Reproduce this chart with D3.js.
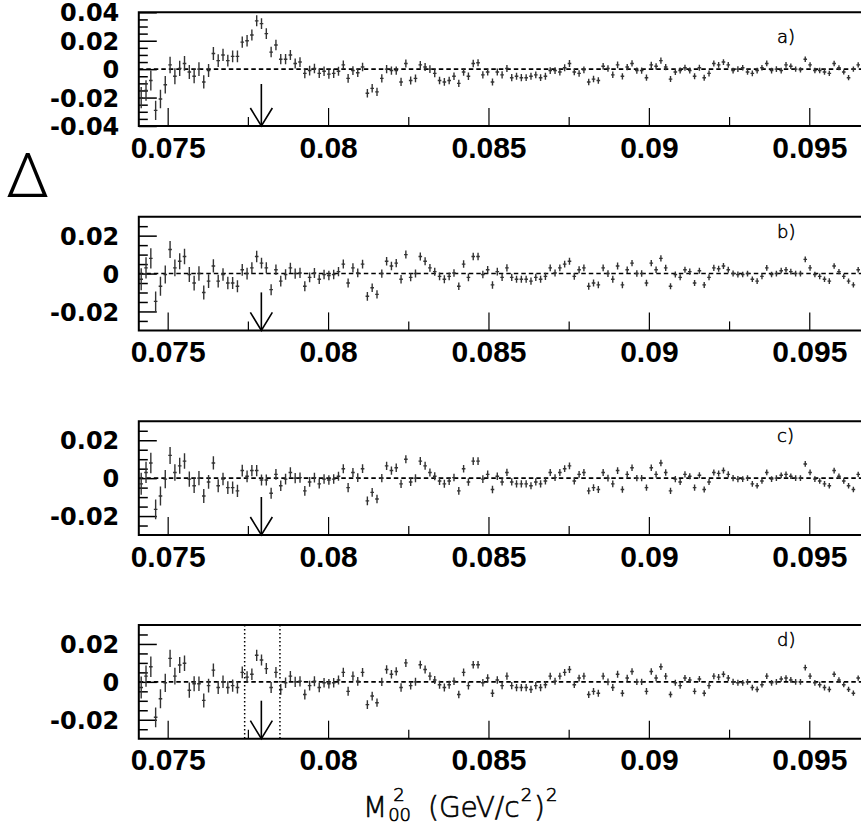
<!DOCTYPE html>
<html>
<head>
<meta charset="utf-8">
<script src="https://cdn.jsdelivr.net/npm/d3@7"></script>
<style>
  body { margin: 0; background: #fff; }
  svg { display: block; }
</style>
</head>
<body>
<svg id="chart" width="861" height="827"></svg>
<script>
// ---- histogram binning (150 bins) ----
const binStart = 0.0741;
const binWidth = 0.00015;

// ---- axis ticks ----
const xTickValues = [0.075, 0.08, 0.085, 0.09, 0.095];
const xTickLabels = ["0.075", "0.08", "0.085", "0.09", "0.095"];
const xMinorTicks = [0.0775, 0.0825, 0.0875, 0.0925];

const yTicksWide = [0.04, 0.02, 0, -0.02, -0.04];
const yTickLabelsWide = ["0.04", "0.02", "0", "-0.02", "-0.04"];
const yMinorWide = [0.035, 0.03, 0.025, 0.015, 0.01, 0.005, -0.005, -0.01, -0.015, -0.025, -0.03, -0.035];

const yTicksNarrow = [0.02, 0, -0.02];
const yTickLabelsNarrow = ["0.02", "0", "-0.02"];
const yMinorNarrow = [0.025, 0.015, 0.01, 0.005, -0.005, -0.01, -0.015, -0.025];

const panelLabels = ["a)", "b)", "c)", "d)"];
const markerMass2 = 0.07792;          // arrow position
const windowEdges = [0.0774, 0.0785]; // dotted window in panel d

// ---- residuals per bin ----
const deltaA = [
  -0.020, -0.015, -0.008, -0.029, -0.021, -0.011, 0.003, -0.005, 0.0005, 0.004,
  -0.002, -0.005, 0.000, -0.009, -0.001, 0.011, 0.006, 0.010, 0.006, 0.009,
  0.009, 0.019, 0.020, 0.024, 0.034, 0.032, 0.025, 0.012, 0.017, 0.007,
  0.007, 0.010, 0.004, 0.005, -0.003, -0.001, 0.0005, -0.003, -0.0015, -0.0035,
  -0.003, -0.0015, 0.003, -0.0065, -0.001, -0.0025, 0.0015, -0.017, -0.0135, -0.016,
  -0.0065, 0.000, -0.001, -0.001, -0.009, 0.004, -0.008, -0.0065, 0.003, 0.0015,
  0.000, -0.003, -0.008, -0.009, -0.008, -0.005, -0.010, -0.002, -0.005, 0.004,
  0.0045, -0.004, -0.002, -0.009, -0.002, -0.004, 0.0005, -0.006, -0.005, -0.006,
  -0.006, -0.005, -0.004, -0.006, -0.005, -0.001, -0.001, -0.002, 0.001, 0.004,
  -0.002, -0.003, -0.0005, -0.009, -0.007, -0.008, 0.002, 0.0005, -0.004, 0.003,
  -0.005, 0.0015, 0.004, -0.001, -0.001, -0.006, 0.003, 0.002, 0.006, 0.0015,
  -0.007, -0.002, -0.001, 0.001, -0.001, -0.005, 0.001, -0.006, -0.003, 0.004,
  0.003, 0.005, 0.003, -0.001, 0.000, 0.001, -0.002, -0.003, -0.001, 0.001,
  0.004, -0.001, 0.000, -0.001, 0.003, 0.002, 0.000, -0.0005, 0.007, 0.003,
  -0.001, -0.001, -0.002, -0.003, 0.004, 0.001, -0.002, -0.006, 0.000, 0.003
];

const deltaB = [
  -0.003, 0.003, 0.008, -0.0147, -0.0067, -0.0005, 0.0127, 0.003, 0.0065, 0.009,
  -0.0005, -0.005, 0.000, -0.010, -0.004, 0.004, -0.004, -0.0005, -0.005, -0.005,
  -0.0067, 0.002, 0.000, 0.003, 0.009, 0.0055, 0.003, -0.0085, 0.002, -0.004,
  -0.0005, 0.003, 0.000, 0.0003, -0.0067, -0.002, 0.0003, -0.003, -0.0005, -0.001,
  -0.0005, 0.001, 0.005, -0.005, 0.003, 0.0003, 0.005, -0.012, -0.0075, -0.011,
  0.000, 0.0065, 0.004, 0.0055, -0.003, 0.010, -0.002, 0.000, 0.009, 0.0065,
  0.003, 0.001, -0.0015, -0.003, -0.0015, 0.0003, -0.0067, 0.005, -0.002, 0.009,
  0.009, -0.0005, 0.002, -0.006, 0.001, -0.002, 0.003, -0.002, -0.003, -0.003,
  -0.003, -0.004, -0.002, -0.003, -0.0015, 0.003, 0.0003, 0.003, 0.005, 0.0065,
  -0.0015, 0.002, 0.003, -0.0067, -0.005, -0.006, 0.003, 0.000, -0.003, 0.004,
  -0.006, 0.002, 0.0055, 0.000, 0.000, -0.005, 0.0055, 0.002, 0.008, 0.003,
  -0.0067, -0.0005, -0.002, 0.002, 0.001, -0.005, 0.0015, -0.006, -0.002, 0.003,
  0.0025, 0.004, 0.002, 0.000, -0.0005, -0.0005, 0.000, -0.003, -0.004, -0.0015,
  0.003, -0.0005, 0.000, 0.0015, 0.002, 0.001, 0.000, 0.000, 0.0075, 0.003,
  -0.0005, -0.0015, -0.003, -0.004, 0.004, 0.001, -0.0015, -0.004, -0.006, 0.002
];

const deltaC = [
  -0.003, 0.003, 0.008, -0.0165, -0.0094, -0.0005, 0.012, 0.003, 0.0065, 0.009,
  -0.0005, -0.004, 0.000, -0.0094, -0.002, 0.008, -0.004, -0.0005, -0.005, -0.005,
  -0.0067, 0.004, 0.001, 0.004, 0.004, -0.001, -0.001, -0.008, 0.002, -0.004,
  -0.0005, 0.003, 0.000, 0.0003, -0.0067, -0.002, 0.0003, -0.003, -0.0005, -0.001,
  -0.0005, 0.001, 0.005, -0.005, 0.003, 0.0003, 0.005, -0.012, -0.0075, -0.011,
  0.000, 0.0065, 0.004, 0.0055, -0.003, 0.010, -0.002, 0.000, 0.009, 0.0065,
  0.003, 0.001, -0.0015, -0.003, -0.0015, 0.0003, -0.0067, 0.005, -0.002, 0.009,
  0.009, -0.0005, 0.002, -0.006, 0.001, -0.002, 0.003, -0.002, -0.003, -0.003,
  -0.003, -0.004, -0.002, -0.003, -0.0015, 0.003, 0.0003, 0.003, 0.005, 0.0065,
  -0.0015, 0.002, 0.003, -0.0067, -0.005, -0.006, 0.003, 0.000, -0.003, 0.004,
  -0.006, 0.002, 0.0055, 0.000, 0.000, -0.005, 0.0055, 0.002, 0.008, 0.003,
  -0.0067, -0.0005, -0.002, 0.002, 0.001, -0.005, 0.0015, -0.006, -0.002, 0.003,
  0.0025, 0.004, 0.002, 0.000, -0.0005, -0.0005, 0.000, -0.003, -0.004, -0.0015,
  0.003, -0.0005, 0.000, 0.0015, 0.002, 0.001, 0.000, 0.000, 0.0075, 0.003,
  -0.0005, -0.0015, -0.003, -0.004, 0.004, 0.001, -0.0015, -0.004, -0.006, 0.002
];

const deltaD = [
  -0.003, 0.003, 0.008, -0.0187, -0.0089, -0.0005, 0.0124, 0.003, 0.0089, 0.0098,
  -0.0044, -0.001, -0.001, -0.0098, -0.002, 0.0062, -0.003, 0.000, -0.003, -0.002,
  -0.003, 0.005, 0.0025, 0.004, 0.014, 0.0115, 0.007, -0.003, 0.005, -0.004,
  -0.0005, 0.003, 0.000, 0.0003, -0.0067, -0.002, 0.0003, -0.003, -0.0005, -0.001,
  -0.0005, 0.001, 0.005, -0.005, 0.003, 0.0003, 0.005, -0.012, -0.0075, -0.011,
  0.000, 0.0065, 0.004, 0.0055, -0.003, 0.010, -0.002, 0.000, 0.009, 0.0065,
  0.003, 0.001, -0.0015, -0.003, -0.0015, 0.0003, -0.0067, 0.005, -0.002, 0.009,
  0.009, -0.0005, 0.002, -0.006, 0.001, -0.002, 0.003, -0.002, -0.003, -0.003,
  -0.003, -0.004, -0.002, -0.003, -0.0015, 0.003, 0.0003, 0.003, 0.005, 0.0065,
  -0.0015, 0.002, 0.003, -0.0067, -0.005, -0.006, 0.003, 0.000, -0.003, 0.004,
  -0.006, 0.002, 0.0055, 0.000, 0.000, -0.005, 0.0055, 0.002, 0.008, 0.003,
  -0.0067, -0.0005, -0.002, 0.002, 0.001, -0.005, 0.0015, -0.006, -0.002, 0.003,
  0.0025, 0.004, 0.002, 0.000, -0.0005, -0.0005, 0.000, -0.003, -0.004, -0.0015,
  0.003, -0.0005, 0.000, 0.0015, 0.002, 0.001, 0.000, 0.000, 0.0075, 0.003,
  -0.0005, -0.0015, -0.003, -0.004, 0.004, 0.001, -0.0015, -0.004, -0.006, 0.002
];

// ---- statistical errors per bin ----
const errorA = [
  0.0075, 0.0072, 0.0070, 0.0068, 0.0065, 0.0062, 0.0058, 0.0056, 0.0054, 0.0052,
  0.0050, 0.0049, 0.0048, 0.0047, 0.0046, 0.0045, 0.0044, 0.0043, 0.0042, 0.0042,
  0.0041, 0.0040, 0.0040, 0.0039, 0.0039, 0.0038, 0.0038, 0.0037, 0.0037, 0.0036,
  0.0036, 0.0035, 0.0035, 0.0034, 0.0034, 0.0034, 0.0033, 0.0033, 0.0033, 0.0032,
  0.0032, 0.0032, 0.0031, 0.0031, 0.0031, 0.0030, 0.0030, 0.0030, 0.0030, 0.0029,
  0.0029, 0.0029, 0.0029, 0.0029, 0.0029, 0.0028, 0.0028, 0.0028, 0.0028, 0.0028,
  0.0027, 0.0027, 0.0027, 0.0027, 0.0027, 0.0026, 0.0026, 0.0026, 0.0026, 0.0026,
  0.0025, 0.0025, 0.0025, 0.0025, 0.0025, 0.0025, 0.0025, 0.0025, 0.0025, 0.0025,
  0.0024, 0.0024, 0.0024, 0.0024, 0.0024, 0.0024, 0.0024, 0.0024, 0.0024, 0.0024,
  0.0023, 0.0023, 0.0023, 0.0023, 0.0023, 0.0023, 0.0023, 0.0023, 0.0023, 0.0023,
  0.0022, 0.0022, 0.0022, 0.0022, 0.0022, 0.0022, 0.0022, 0.0022, 0.0022, 0.0022,
  0.0021, 0.0021, 0.0021, 0.0021, 0.0021, 0.0021, 0.0021, 0.0021, 0.0021, 0.0021,
  0.0020, 0.0020, 0.0020, 0.0020, 0.0020, 0.0020, 0.0020, 0.0020, 0.0020, 0.0020,
  0.0020, 0.0020, 0.0020, 0.0020, 0.0020, 0.0019, 0.0019, 0.0019, 0.0019, 0.0019,
  0.0019, 0.0019, 0.0019, 0.0019, 0.0019, 0.0018, 0.0018, 0.0018, 0.0018, 0.0018
];

const errorBCD = [
  0.0058, 0.0056, 0.0054, 0.0052, 0.0050, 0.0048, 0.0045, 0.0044, 0.0042, 0.0041,
  0.0040, 0.0039, 0.0038, 0.0037, 0.0036, 0.0035, 0.0034, 0.0033, 0.0033, 0.0032,
  0.0032, 0.0031, 0.0031, 0.0030, 0.0030, 0.0029, 0.0029, 0.0029, 0.0028, 0.0028,
  0.0028, 0.0027, 0.0027, 0.0027, 0.0026, 0.0026, 0.0026, 0.0025, 0.0025, 0.0025,
  0.0025, 0.0024, 0.0024, 0.0024, 0.0024, 0.0023, 0.0023, 0.0023, 0.0023, 0.0022,
  0.0022, 0.0022, 0.0022, 0.0022, 0.0022, 0.0021, 0.0021, 0.0021, 0.0021, 0.0021,
  0.0021, 0.0021, 0.0021, 0.0021, 0.0021, 0.0020, 0.0020, 0.0020, 0.0020, 0.0020,
  0.0020, 0.0020, 0.0020, 0.0020, 0.0020, 0.0019, 0.0019, 0.0019, 0.0019, 0.0019,
  0.0019, 0.0019, 0.0019, 0.0019, 0.0019, 0.0018, 0.0018, 0.0018, 0.0018, 0.0018,
  0.0018, 0.0018, 0.0018, 0.0018, 0.0018, 0.0018, 0.0018, 0.0018, 0.0018, 0.0018,
  0.0017, 0.0017, 0.0017, 0.0017, 0.0017, 0.0017, 0.0017, 0.0017, 0.0017, 0.0017,
  0.0016, 0.0016, 0.0016, 0.0016, 0.0016, 0.0016, 0.0016, 0.0016, 0.0016, 0.0016,
  0.0016, 0.0016, 0.0016, 0.0016, 0.0016, 0.0015, 0.0015, 0.0015, 0.0015, 0.0015,
  0.0015, 0.0015, 0.0015, 0.0015, 0.0015, 0.0015, 0.0015, 0.0015, 0.0015, 0.0015,
  0.0015, 0.0015, 0.0015, 0.0015, 0.0015, 0.0014, 0.0014, 0.0014, 0.0014, 0.0014
];

// ---- layout ----
const svg = d3.select("#chart");
const left = 138.8, right = 860.6;
const panelHeight = 113.7;

const panels = [
  { top: 12.3,  values: deltaA, errors: errorA,   yDomain: [-0.04, 0.04], ticks: yTicksWide,   labels: yTickLabelsWide,   minor: yMinorWide,   arrowLen: 42, tagDy: 31 },
  { top: 216.7, values: deltaB, errors: errorBCD, yDomain: [-0.03, 0.03], ticks: yTicksNarrow, labels: yTickLabelsNarrow, minor: yMinorNarrow, arrowLen: 38, tagDy: 21 },
  { top: 421.3, values: deltaC, errors: errorBCD, yDomain: [-0.03, 0.03], ticks: yTicksNarrow, labels: yTickLabelsNarrow, minor: yMinorNarrow, arrowLen: 38, tagDy: 21 },
  { top: 625.0, values: deltaD, errors: errorBCD, yDomain: [-0.03, 0.03], ticks: yTicksNarrow, labels: yTickLabelsNarrow, minor: yMinorNarrow, arrowLen: 38, tagDy: 21, window: true }
];

const x = d3.scaleLinear().domain([0.0741, 0.0966]).range([left, right]);
const binCenter = i => binStart + (i + 0.5) * binWidth;
const ink = "#000";
const markColor = "#333";

panels.forEach((p, k) => {
  const bottom = p.top + panelHeight;
  const y = d3.scaleLinear().domain(p.yDomain).range([bottom, p.top]);
  const g = svg.append("g");

  const clipId = "clip" + k;
  svg.append("clipPath").attr("id", clipId)
    .append("rect").attr("x", left).attr("y", p.top).attr("width", 861 - left).attr("height", panelHeight);

  // bottom axis: major (labelled) and minor ticks pointing up
  const xMajor = d3.axisBottom(x).tickValues(xTickValues)
    .tickFormat((d, i) => xTickLabels[i]).tickSize(-18).tickPadding(10.5);
  const gx = g.append("g").attr("transform", `translate(0,${bottom})`).call(xMajor);
  gx.select(".domain").remove();
  gx.selectAll(".tick line").attr("stroke", ink).attr("stroke-width", 1.2);
  gx.selectAll(".tick text")
    .attr("fill", ink)
    .style("font-family", "'Liberation Sans', Arial, Helvetica, sans-serif")
    .style("font-weight", "bold")
    .style("font-size", "30px");

  const xMinor = d3.axisBottom(x).tickValues(xMinorTicks).tickFormat("").tickSize(-9);
  const gxm = g.append("g").attr("transform", `translate(0,${bottom})`).call(xMinor);
  gxm.select(".domain").remove();
  gxm.selectAll(".tick line").attr("stroke", ink).attr("stroke-width", 1.2);

  // left axis: ticks point into the frame
  const yMajor = d3.axisLeft(y).tickValues(p.ticks)
    .tickFormat((d, i) => p.labels[i]).tickSize(-18).tickPadding(19.5);
  const gy = g.append("g").attr("transform", `translate(${left},0)`).call(yMajor);
  gy.select(".domain").remove();
  gy.selectAll(".tick line").attr("stroke", ink).attr("stroke-width", 1.5);
  gy.selectAll(".tick text")
    .attr("fill", ink)
    .attr("dy", "0.36em")
    .style("font-family", "'DejaVu Sans', Verdana, sans-serif")
    .style("font-weight", "bold")
    .style("font-size", "24px");

  const yMinor = d3.axisLeft(y).tickValues(p.minor).tickFormat("").tickSize(-9);
  const gym = g.append("g").attr("transform", `translate(${left},0)`).call(yMinor);
  gym.select(".domain").remove();
  gym.selectAll(".tick line").attr("stroke", ink).attr("stroke-width", 1.5);

  // zero reference
  g.append("line")
    .attr("x1", left).attr("x2", 861)
    .attr("y1", y(0)).attr("y2", y(0))
    .attr("stroke", ink).attr("stroke-width", 1.6)
    .attr("stroke-dasharray", "4.5,3");

  // residual points with error bars
  const pts = g.append("g").attr("clip-path", `url(#${clipId})`)
    .selectAll("g.pt").data(p.values).join("g").attr("class", "pt");
  pts.append("line")
    .attr("x1", (d, i) => x(binCenter(i))).attr("x2", (d, i) => x(binCenter(i)))
    .attr("y1", (d, i) => y(d - p.errors[i])).attr("y2", (d, i) => y(d + p.errors[i]))
    .attr("stroke", markColor).attr("stroke-width", 1.4);
  pts.append("line")
    .attr("x1", (d, i) => x(binCenter(i)) - 1.8).attr("x2", (d, i) => x(binCenter(i)) + 1.8)
    .attr("y1", d => y(d)).attr("y2", d => y(d))
    .attr("stroke", markColor).attr("stroke-width", 1.4);

  // dotted mass window
  if (p.window) {
    windowEdges.forEach(w => {
      g.append("line")
        .attr("x1", x(w)).attr("x2", x(w))
        .attr("y1", p.top).attr("y2", bottom)
        .attr("stroke", ink).attr("stroke-width", 1.5)
        .attr("stroke-dasharray", "1.5,2.5");
    });
  }

  // arrow at the nominal mass squared
  const xa = x(markerMass2);
  g.append("line")
    .attr("x1", xa).attr("x2", xa)
    .attr("y1", bottom - p.arrowLen).attr("y2", bottom)
    .attr("stroke", ink).attr("stroke-width", 1.6);
  g.append("path")
    .attr("d", `M${xa - 11},${bottom - 18}L${xa},${bottom}L${xa + 11},${bottom - 18}`)
    .attr("fill", "none").attr("stroke", ink).attr("stroke-width", 1.6);

  // frame (open on the right)
  g.append("path")
    .attr("d", `M861,${p.top}H${left}V${bottom}H861`)
    .attr("fill", "none").attr("stroke", ink).attr("stroke-width", 2);

  // panel tag
  g.append("text")
    .attr("x", 777).attr("y", p.top + p.tagDy)
    .attr("fill", ink)
    .attr("stroke", ink).attr("stroke-width", 0.5)
    .style("font-family", "'DejaVu Sans', sans-serif")
    .style("font-weight", "200")
    .style("font-size", "18px")
    .text(panelLabels[k]);
});

// vertical axis symbol
svg.append("text")
  .attr("x", 6).attr("y", 197)
  .attr("fill", ink)
  .style("font-family", "Roboto, Lato, 'Open Sans', sans-serif")
  .style("font-weight", "300")
  .style("font-size", "62px")
  .text("Δ");

// horizontal axis title: M_00^2 (GeV/c^2)^2
const titleFont = "'DejaVu Sans', sans-serif";
const base = 817;
let cx = 363;
function piece(str, size, yy, advance) {
  const t = svg.append("text")
    .attr("x", cx).attr("y", yy).attr("fill", ink)
    .attr("stroke", ink).attr("stroke-width", 0.6)
    .style("font-family", titleFont).style("font-weight", "200")
    .style("font-size", size + "px")
    .text(str);
  const w = t.node().getComputedTextLength();
  if (advance) cx += w;
  return w;
}
piece("M", 28, base, true);
cx += 1;
piece("00", 18, base + 4, false);
cx += 5;
piece("2", 18, base - 16, false);
cx = 428;
piece("(GeV/c", 28, base, true);
cx += 1;
piece("2", 18, base - 16, true);
cx += 2;
piece(")", 28, base, true);
cx += 1;
piece("2", 18, base - 16, true);
</script>
</body>
</html>
